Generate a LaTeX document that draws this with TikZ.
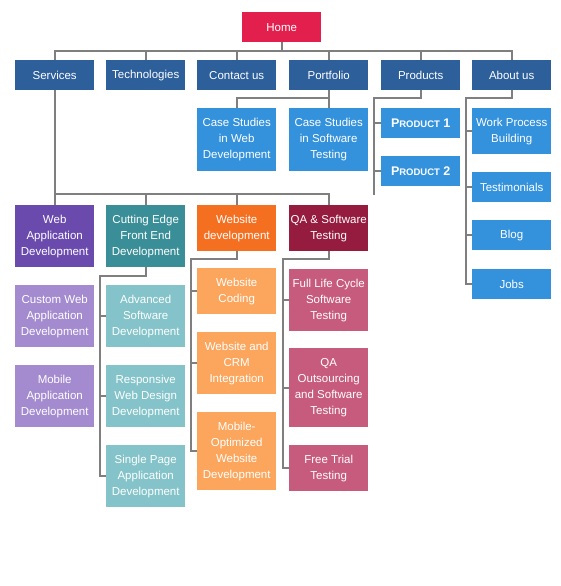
\documentclass[tikz,border=0pt]{standalone}
\usepackage{fontspec}
\setmainfont{Liberation Sans}
\usetikzlibrary{positioning}

\definecolor{homered}{HTML}{E31F4E}
\definecolor{topblue}{HTML}{2D5F9B}
\definecolor{subblue}{HTML}{3492DC}
\definecolor{webpurple}{HTML}{6B4AAE}
\definecolor{webpurplelt}{HTML}{A48ACF}
\definecolor{cutteal}{HTML}{3A8E97}
\definecolor{cuttealt}{HTML}{83C3C9}
\definecolor{wsorange}{HTML}{F56F21}
\definecolor{wsorangelt}{HTML}{FBA65C}
\definecolor{qamaroon}{HTML}{951B3F}
\definecolor{qapink}{HTML}{C75B7D}
\definecolor{wiregray}{HTML}{7F7F7F}

\newcommand{\prodname}[1]{\textbf{\fontsize{12.5}{14}\selectfont P{\fontsize{9.5}{10}\selectfont RODUCT} #1}}

\begin{document}
\begin{tikzpicture}[x=1pt, y=-1pt,
    box/.style={anchor=north west, minimum width=79pt, inner sep=1pt, align=center,
      text=white, font=\fontsize{11.5}{16}\selectfont},
    wire/.style={draw=wiregray, line width=1.6pt}]
    \useasboundingbox (0,0) rectangle (560,586);

    % Draw the top of the tree
    \node[box, fill=homered, minimum height=30pt] (home) at (242,12) {Home};

    \node[box, fill=topblue, minimum height=30pt] (serv) at (15,60) {Services};
    \node[box, fill=topblue, minimum height=30pt] (tech) at (106,60) {Technologies};
    \node[box, fill=topblue, minimum height=30pt] (cont) at (197,60) {Contact us};
    \node[box, fill=topblue, minimum height=30pt] (port) at (289,60) {Portfolio};
    \node[box, fill=topblue, minimum height=30pt] (prod) at (381,60) {Products};
    \node[box, fill=topblue, minimum height=30pt] (about) at (472,60) {About us};

    % Draw the boxes under portfolio, products and about us
    \node[box, fill=subblue, minimum height=63pt] (csweb) at (197,108) {Case Studies\\in Web\\Development};
    \node[box, fill=subblue, minimum height=63pt] (cssoft) at (289,108) {Case Studies\\in Software\\Testing};

    \node[box, fill=subblue, minimum height=30pt] (prodone) at (381,108) {\prodname{1}};
    \node[box, fill=subblue, minimum height=30pt] (prodtwo) at (381,156) {\prodname{2}};

    \node[box, fill=subblue, minimum height=46pt] (work) at (472,108) {Work Process\\Building};
    \node[box, fill=subblue, minimum height=30pt] (testi) at (472,172) {Testimonials};
    \node[box, fill=subblue, minimum height=30pt] (blog) at (472,220) {Blog};
    \node[box, fill=subblue, minimum height=30pt] (jobs) at (472,269) {Jobs};

    % Draw the boxes under services
    \node[box, fill=webpurple, minimum height=62pt] (webapp) at (15,205) {Web\\Application\\Development};
    \node[box, fill=cutteal, minimum height=62pt] (cut) at (106,205) {Cutting Edge\\Front End\\Development};
    \node[box, fill=wsorange, minimum height=46pt] (wdev) at (197,205) {Website\\development};
    \node[box, fill=qamaroon, minimum height=46pt] (qa) at (289,205) {QA \& Software\\Testing};

    \node[box, fill=webpurplelt, minimum height=62pt] (custom) at (15,285) {Custom Web\\Application\\Development};
    \node[box, fill=webpurplelt, minimum height=62pt] (mobapp) at (15,365) {Mobile\\Application\\Development};

    \node[box, fill=cuttealt, minimum height=62pt] (adv) at (106,285) {Advanced\\Software\\Development};
    \node[box, fill=cuttealt, minimum height=62pt] (resp) at (106,365) {Responsive\\Web Design\\Development};
    \node[box, fill=cuttealt, minimum height=62pt] (spa) at (106,445) {Single Page\\Application\\Development};

    \node[box, fill=wsorangelt, minimum height=46pt] (coding) at (197,268) {Website\\Coding};
    \node[box, fill=wsorangelt, minimum height=62pt] (crm) at (197,332) {Website and\\CRM\\Integration};
    \node[box, fill=wsorangelt, minimum height=78pt] (mobopt) at (197,412) {Mobile-\\Optimized\\Website\\Development};

    \node[box, fill=qapink, minimum height=62pt] (life) at (289,269) {Full Life Cycle\\Software\\Testing};
    \node[box, fill=qapink, minimum height=79pt] (outs) at (289,348) {QA\\Outsourcing\\and Software\\Testing};
    \node[box, fill=qapink, minimum height=46pt] (free) at (289,445) {Free Trial\\Testing};

    % Points where the wires turn
    \coordinate (topbus) at (0,51);
    \coordinate (midbus) at (0,98);
    \coordinate (servbus) at (0,194);
    \coordinate (prodend) at (374,195);
    \coordinate (aboutx) at (466,0);
    \coordinate (cutturn) at (100,276);
    \coordinate (wdevturn) at (191,259);
    \coordinate (qaturn) at (283,259);

    % Draw the wires of the top row
    \draw[wire] (home.south) -- (home.south |- topbus);
    \draw[wire] (serv.north) -- (serv.north |- topbus) -- (about.north |- topbus) -- (about.north);
    \draw[wire] (tech.north) -- (tech.north |- topbus);
    \draw[wire] (cont.north) -- (cont.north |- topbus);
    \draw[wire] (port.north) -- (port.north |- topbus);
    \draw[wire] (prod.north) -- (prod.north |- topbus);

    % Draw the wires to the case studies
    \draw[wire] (port.south) -- (cssoft.north);
    \draw[wire] (csweb.north) -- (csweb.north |- midbus) -- (cssoft.north |- midbus);

    % Draw the wires of products and about us
    \draw[wire] (prod.south) |- (prodend |- midbus) -- (prodend);
    \draw[wire] (prodone.west) -- (prodone.west -| prodend);
    \draw[wire] (prodtwo.west) -- (prodtwo.west -| prodend);

    \draw[wire] (about.south) |- (aboutx |- midbus) |- (jobs.west);
    \draw[wire] (work.west) -- (work.west -| aboutx);
    \draw[wire] (testi.west) -- (testi.west -| aboutx);
    \draw[wire] (blog.west) -- (blog.west -| aboutx);

    % Draw the wires of services
    \draw[wire] (serv.south) -- (webapp.north);
    \draw[wire] (serv.south |- servbus) -- (qa.north |- servbus) -- (qa.north);
    \draw[wire] (cut.north) -- (cut.north |- servbus);
    \draw[wire] (wdev.north) -- (wdev.north |- servbus);

    \draw[wire] (cut.south) |- (cutturn) |- (spa.west);
    \draw[wire] (adv.west) -- (adv.west -| cutturn);
    \draw[wire] (resp.west) -- (resp.west -| cutturn);

    \draw[wire] (wdev.south) |- (wdevturn) |- (mobopt.west);
    \draw[wire] (coding.west) -- (coding.west -| wdevturn);
    \draw[wire] (crm.west) -- (crm.west -| wdevturn);

    \draw[wire] (qa.south) |- (qaturn) |- (free.west);
    \draw[wire] (life.west) -- (life.west -| qaturn);
    \draw[wire] (outs.west) -- (outs.west -| qaturn);
\end{tikzpicture}
\end{document}
